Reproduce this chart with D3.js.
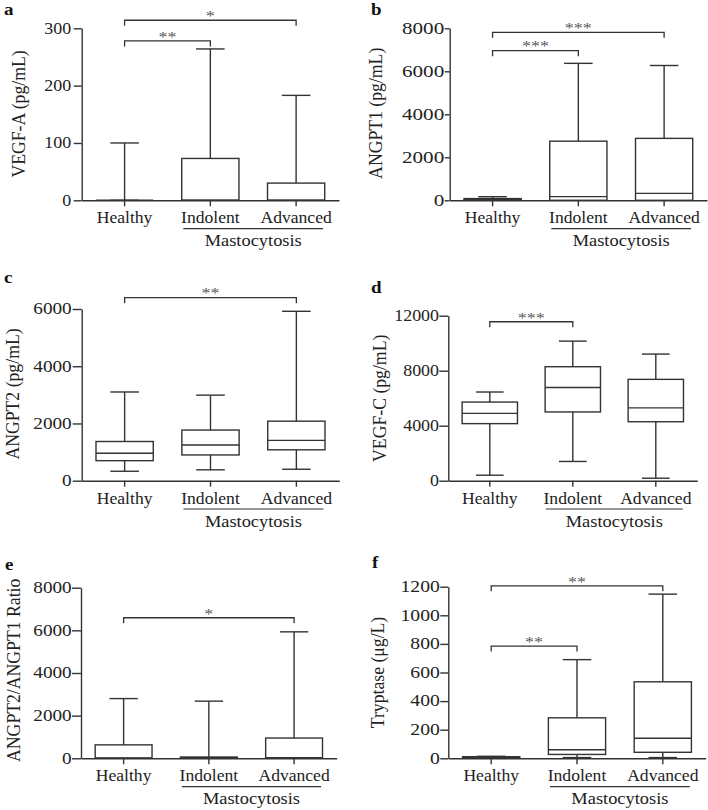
<!DOCTYPE html>
<html><head><meta charset="utf-8">
<script src="https://cdn.jsdelivr.net/npm/d3@7"></script>
<style>body{margin:0;background:#fff}</style>
</head><body>
<svg id="chart" width="708" height="810"></svg>
<script>
// ---------- data ----------
const categories = ["Healthy", "Indolent", "Advanced"];
const groupLabel = "Mastocytosis";
const panelLetters = ["a", "b", "c", "d", "e", "f"];
const yLabels = ["VEGF-A (pg/mL)", "ANGPT1 (pg/mL)", "ANGPT2 (pg/mL)", "VEGF-C (pg/mL)", "ANGPT2/ANGPT1 Ratio", "Tryptase (\u03BCg/L)"];
const yMax = [300, 8000, 6000, 12000, 8000, 1200];
const yStep = [100, 2000, 2000, 4000, 2000, 200];

// box statistics per category: [min, q1, median, q3, max]
const vegfA    = [[0, 0, 0, 0, 100], [0, 0, 0, 73, 264], [0, 0, 0, 30, 183]];
const angpt1   = [[0, 20, 50, 80, 167], [0, 0, 170, 2750, 6370], [0, 0, 320, 2880, 6270]];
const angpt2   = [[330, 700, 960, 1370, 3100], [380, 900, 1250, 1770, 2990], [400, 1080, 1410, 2080, 5920]];
const vegfC    = [[400, 4150, 4900, 5720, 6450], [1400, 5000, 6780, 8290, 10150], [180, 4290, 5300, 7370, 9210]];
const ratio    = [[0, 0, 20, 630, 2800], [0, 0, 20, 60, 2680], [0, 0, 30, 950, 5930]];
const tryptase = [[2, 5, 8, 11, 14], [5, 27, 60, 283, 690], [5, 42, 140, 535, 1148]];

// significance brackets: [from index, to index, label, bracket height in data units]
const sigVegfA    = [[0, 1, "**", 278], [0, 2, "*", 314]];
const sigAngpt1   = [[0, 1, "***", 6960], [0, 2, "***", 7815]];
const sigAngpt2   = [[0, 2, "**", 6395]];
const sigVegfC    = [[0, 1, "***", 11560]];
const sigRatio    = [[0, 2, "*", 6590]];
const sigTryptase = [[0, 1, "**", 785], [0, 2, "**", 1206]];

const panelData = [vegfA, angpt1, angpt2, vegfC, ratio, tryptase];
const panelSig = [sigVegfA, sigAngpt1, sigAngpt2, sigVegfC, sigRatio, sigTryptase];

// ---------- layout ----------
const layout = [
  {x0: 81.7,  x1: 339,   yTop: 28.3,  yBot: 200.3, letter: [4, 14.5],  ylab: [25, 114],      tk: 8, lab: -10.5, st: 1.12},
  {x0: 449.7, x1: 707,   yTop: 28.3,  yBot: 200.3, letter: [371, 14.5], ylab: [382.3, 113.3], tk: 5, lab: -5.5,  st: 1.32},
  {x0: 81.7,  x1: 339.3, yTop: 309,   yBot: 480.7, letter: [4, 283],   ylab: [18.5, 394],     tk: 9, lab: -10,   st: 1.2},
  {x0: 448.3, x1: 697.3, yTop: 315.7, yBot: 480.7, letter: [371, 293], ylab: [385.7, 398.3],  tk: 9, lab: -9.3,  st: 1.12},
  {x0: 81,    x1: 336.7, yTop: 587.7, yBot: 758.3, letter: [5, 570],   ylab: [20, 670.3],     tk: 9, lab: -9.3,  st: 1.2},
  {x0: 448.3, x1: 705.7, yTop: 586.7, yBot: 758.3, letter: [372, 568], ylab: [384, 672.5],    tk: 8, lab: -8.5,  st: 1.23}
];

const FONT = "'Liberation Serif', 'Times New Roman', serif";
const INK = "#333";
const svg = d3.select("#chart");

panelData.forEach((boxes, p) => {
  const L = layout[p];
  const g = svg.append("g");
  const x = d3.scaleBand().domain(categories).range([L.x0, L.x1]).padding(0);
  const y = d3.scaleLinear().domain([0, yMax[p]]).range([L.yBot, L.yTop]);
  const bw = x.bandwidth() * 0.667;
  const cw = x.bandwidth() * 0.333;
  const cx = c => x(c) + x.bandwidth() / 2;

  // y axis
  const ticks = d3.range(0, yMax[p] + yStep[p] / 2, yStep[p]);
  const ya = g.append("g").attr("transform", `translate(${L.x0},0)`)
    .call(d3.axisLeft(y).tickValues(ticks).tickFormat(d3.format("d")).tickSize(L.tk).tickSizeOuter(0));
  ya.select(".domain").attr("stroke", INK).attr("stroke-width", 1.4);
  ya.selectAll(".tick line").attr("stroke", INK).attr("stroke-width", 1.4);
  ya.selectAll(".tick text").attr("x", null).attr("dy", "0.3em")
    .attr("transform", `translate(${L.lab},0) scale(${L.st},1)`)
    .attr("fill", "#222").style("font-family", FONT).style("font-size", "16px");

  // x axis
  const xa = g.append("g").attr("transform", `translate(0,${L.yBot})`)
    .call(d3.axisBottom(x).tickSize(6).tickSizeOuter(0));
  xa.select(".domain").attr("stroke", INK).attr("stroke-width", 1.4);
  xa.selectAll(".tick line").attr("stroke", INK).attr("stroke-width", 1.4);
  xa.selectAll(".tick text").attr("y", null).attr("dy", null)
    .attr("transform", `translate(0,23) scale(1.1,1)`)
    .attr("fill", "#222").style("font-family", FONT).style("font-size", "16px");

  // Mastocytosis group underline and label
  const ux0 = cx(categories[1]) - 27, ux1 = cx(categories[2]) + 27;
  g.append("line").attr("x1", ux0).attr("x2", ux1)
    .attr("y1", L.yBot + 28.3).attr("y2", L.yBot + 28.3)
    .attr("stroke", INK).attr("stroke-width", 1.2);
  g.append("text").attr("transform", `translate(${(ux0 + ux1) / 2},${L.yBot + 46}) scale(1.15,1)`)
    .attr("text-anchor", "middle").attr("fill", "#222")
    .style("font-family", FONT).style("font-size", "16px").text(groupLabel);

  // y label
  g.append("text")
    .attr("transform", `translate(${L.ylab[0]},${L.ylab[1]}) scale(1.1,1) rotate(-90)`)
    .attr("text-anchor", "middle").attr("fill", "#222")
    .style("font-family", FONT).style("font-size", "17.7px").text(yLabels[p]);

  // panel letter
  g.append("text").attr("transform", `translate(${L.letter[0]},${L.letter[1]}) scale(1.15,1)`)
    .attr("fill", "#111").style("font-family", FONT).style("font-weight", "bold")
    .style("font-size", "16.5px").text(panelLetters[p]);

  // boxes
  const bg = g.append("g").attr("stroke", INK).attr("stroke-width", 1.4).attr("fill", "none");
  boxes.forEach((s, i) => {
    const c = cx(categories[i]);
    const [mn, q1, md, q3, mx] = s;
    bg.append("line").attr("x1", c).attr("x2", c).attr("y1", y(q3)).attr("y2", y(mx));
    bg.append("line").attr("x1", c).attr("x2", c).attr("y1", y(mn)).attr("y2", y(q1));
    bg.append("line").attr("x1", c - cw / 2).attr("x2", c + cw / 2).attr("y1", y(mx)).attr("y2", y(mx));
    bg.append("line").attr("x1", c - cw / 2).attr("x2", c + cw / 2).attr("y1", y(mn)).attr("y2", y(mn));
    bg.append("rect").attr("x", c - bw / 2).attr("width", bw)
      .attr("y", y(q3)).attr("height", Math.max(0, y(q1) - y(q3))).attr("fill", "#fff");
    bg.append("line").attr("x1", c - bw / 2).attr("x2", c + bw / 2).attr("y1", y(md)).attr("y2", y(md));
  });

  // significance brackets
  panelSig[p].forEach(([a, b, lab, h]) => {
    const xa1 = cx(categories[a]), xb1 = cx(categories[b]), yy = y(h);
    g.append("path").attr("d", `M${xa1},${yy + 5.5}V${yy}H${xb1}V${yy + 5.5}`)
      .attr("fill", "none").attr("stroke", INK).attr("stroke-width", 1.3);
    g.append("text").attr("transform", `translate(${(xa1 + xb1) / 2},${yy + 0.8}) scale(1.2,1)`)
      .attr("text-anchor", "middle").attr("fill", "#555")
      .style("font-family", FONT).style("font-size", "15px").text(lab);
  });
});
</script>
</body></html>
